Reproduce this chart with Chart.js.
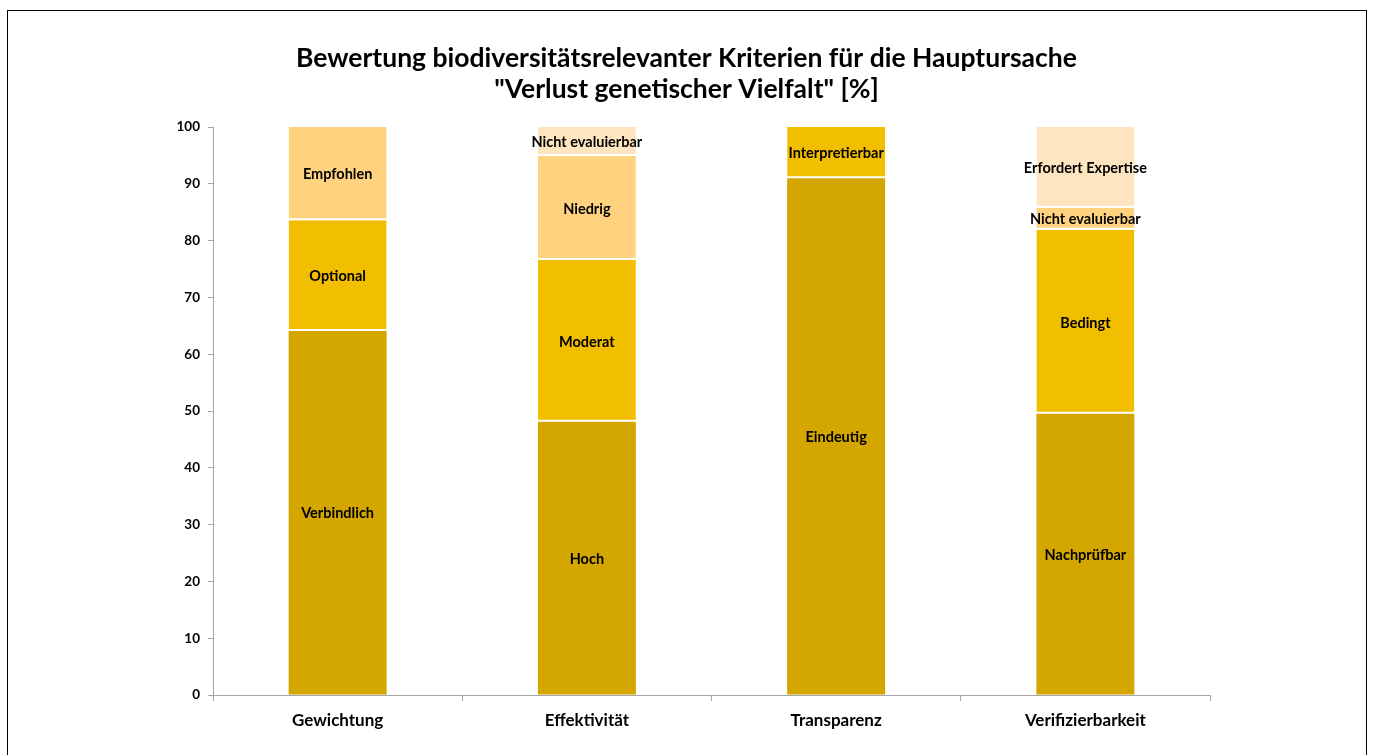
<!DOCTYPE html>
<html>
<head>
<meta charset="utf-8">
<script src="https://cdn.jsdelivr.net/npm/chart.js@4.4.1/dist/chart.umd.min.js"></script>
<style>
  html, body { margin: 0; padding: 0; background: #fff; overflow: hidden; }
  #wrap { position: relative; width: 1373px; height: 755px; }
  #frame { position: absolute; left: 7px; top: 10px; width: 1358px; height: 800px;
           border: 1px solid #000; border-bottom: none; pointer-events: none; }
  canvas { position: absolute; left: 0; top: 0; }
</style>
</head>
<body>
<div id="wrap">
  <canvas id="c" width="1373" height="755"></canvas>
  <div id="frame"></div>
</div>
<script>
const titleLines = ['Bewertung biodiversitätsrelevanter Kriterien für die Hauptursache', '"Verlust genetischer Vielfalt" [%]'];
const categories = ['Gewichtung', 'Effektivität', 'Transparenz', 'Verifizierbarkeit'];

const level1Values = [64.1, 48.1, 91.0, 49.5];
const level2Values = [19.5, 28.5, 9.0, 32.4];
const level3Values = [16.4, 18.3, null, 3.9];
const level4Values = [null, 5.1, null, 14.2];

const level1Labels = ['Verbindlich', 'Hoch', 'Eindeutig', 'Nachprüfbar'];
const level2Labels = ['Optional', 'Moderat', 'Interpretierbar', 'Bedingt'];
const level3Labels = ['Empfohlen', 'Niedrig', '', 'Nicht evaluierbar'];
const level4Labels = ['', 'Nicht evaluierbar', '', 'Erfordert Expertise'];

const yTicks = [0, 10, 20, 30, 40, 50, 60, 70, 80, 90, 100];

const FONT = 'Lato, "Open Sans", sans-serif';
const AXIS = '#A6A6A6';

function ds(data, labels, color, sep) {
  return {
    data: data, segLabels: labels, backgroundColor: color,
    borderColor: '#FFFFFF', borderWidth: {top: 0, bottom: sep, left: 0, right: 0},
    borderSkipped: false, categoryPercentage: 1.0, barPercentage: 0.393
  };
}

const segmentLabelPlugin = {
  id: 'segLabels',
  afterDatasetsDraw(chart) {
    const ctx = chart.ctx;
    ctx.save();
    ctx.font = 'bold 14.5px ' + FONT;
    ctx.fillStyle = '#000';
    ctx.textAlign = 'center';
    ctx.textBaseline = 'middle';
    chart.data.datasets.forEach((d, i) => {
      const meta = chart.getDatasetMeta(i);
      meta.data.forEach((el, j) => {
        const v = d.data[j];
        const lab = d.segLabels[j];
        if (v == null || !lab) return;
        const p = el.getProps(['x', 'y', 'base'], true);
        ctx.fillText(lab, p.x, (p.y + p.base) / 2 + 1);
      });
    });
    ctx.restore();
  }
};

new Chart(document.getElementById('c'), {
  type: 'bar',
  data: {
    labels: categories,
    datasets: [
      ds(level1Values, level1Labels, '#D4A600', 0),
      ds(level2Values, level2Labels, '#F2BE00', 2),
      ds(level3Values, level3Labels, '#FFD27F', 2),
      ds(level4Values, level4Labels, '#FFE4C0', 2)
    ]
  },
  options: {
    responsive: false,
    devicePixelRatio: 1,
    animation: false,
    layout: { padding: { left: 163, right: 163, top: 0, bottom: 10 } },
    plugins: {
      legend: { display: false },
      tooltip: { enabled: false },
      title: {
        display: true,
        text: titleLines,
        color: '#000',
        font: { family: FONT, size: 26.5, weight: 'bold', lineHeight: 1.17 },
        padding: { top: 43, bottom: 22 }
      }
    },
    scales: {
      x: {
        stacked: true,
        grid: { display: true, drawOnChartArea: false, drawTicks: true, tickLength: 6, color: AXIS, offset: true },
        border: { display: true, color: AXIS, width: 1 },
        ticks: { color: '#000', font: { family: FONT, size: 17, weight: 'bold' }, padding: 9 },
        afterFit(s) { s.height = 50; }
      },
      y: {
        stacked: true,
        min: 0, max: 100,
        afterBuildTicks(s) { s.ticks = yTicks.map(v => ({ value: v })); },
        grid: { display: true, drawOnChartArea: false, drawTicks: true, tickLength: 5, color: AXIS },
        border: { display: true, color: AXIS, width: 1 },
        ticks: { color: '#000', font: { family: FONT, size: 13.5, weight: 'bold' }, padding: 8 },
        afterFit(s) { s.width = 50; }
      }
    }
  },
  plugins: [segmentLabelPlugin]
});
</script>
</body>
</html>
